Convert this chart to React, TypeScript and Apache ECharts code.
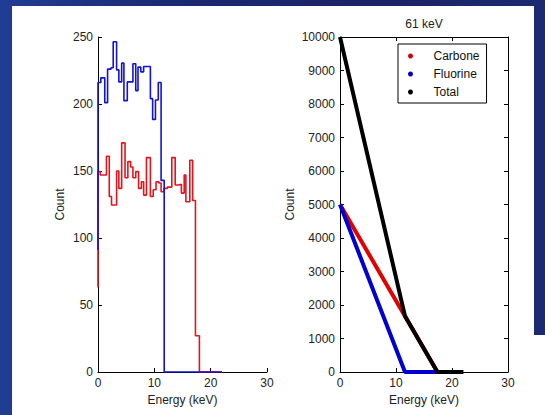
import React, { useEffect, useRef } from "react";
import * as echarts from "echarts";

// Left panel: histogram (stairs) — bin start edges (keV) and counts
const redEdges = [0, 0, 0.4, 1.5, 2.0, 2.4, 3.3, 3.7, 4.2, 4.8, 5.3, 5.8, 6.2, 6.7, 7.2, 7.7, 8.1, 8.6, 9.3, 9.8, 10.3, 10.8, 11.2, 11.7, 12.3, 13.1, 13.7, 14.3, 14.8, 15.3, 15.6, 16.3, 16.8, 17.3, 18.0, 22];
const redCounts = [63, 149.5, 147, 161, 131, 124.6, 150, 137, 171, 145, 157, 153, 145, 149.5, 137, 142, 132, 160, 131, 136, 142, 141, 134.5, 137, 138, 160, 139.5, 140, 133.5, 147, 127, 158, 128, 27, 0, 0];
const blueEdges = [0, 0, 0.5, 1.2, 1.7, 2.3, 2.7, 3.3, 3.7, 4.2, 4.6, 5.2, 6.2, 6.7, 7.1, 7.6, 8.1, 9.3, 9.7, 10.2, 10.7, 11.2, 11.75, 22];
const blueCounts = [91, 216, 219.5, 201, 226, 227, 246.5, 225.5, 216.5, 230.5, 202.5, 216.5, 230, 210, 227.5, 224, 228, 204, 188.5, 203, 216, 143, 0, 0];

// Right panel: 61 keV
const carboneEnergy = [0, 17.4, 22];
const carboneCount = [5000, 0, 0];
const fluorineEnergy = [0, 11.6, 22];
const fluorineCount = [5000, 0, 0];
const totalEnergy = [0, 11.6, 17.4, 22];
const totalCount = [10000, 1670, 0, 0];

const seriesNames = ["Carbone", "Fluorine", "Total"];
const panelTitle = "61 keV";
const xName = "Energy (keV)";
const yName = "Count";

const FONT = "'Liberation Sans', Arial, Helvetica, sans-serif";

const zip = (xs: number[], ys: number[]) => xs.map((x, i) => [x, ys[i]]);

export default function App() {
  const ref = useRef<HTMLDivElement>(null);
  useEffect(() => {
    if (!ref.current) return;
    const chart = echarts.init(ref.current, null, { renderer: "svg" });
    const axisBase = (extra: any) => ({
      type: "value",
      axisLine: { show: true, onZero: false, lineStyle: { color: "#000", width: 1 } },
      axisTick: { show: true, inside: true, length: 4, lineStyle: { color: "#000", width: 1 } },
      axisLabel: { color: "#222", fontSize: 12, fontFamily: FONT, margin: 5, formatter: (v: number) => String(v) },
      splitLine: { show: false },
      nameTextStyle: { color: "#222", fontSize: 12, fontFamily: FONT },
      ...extra,
    });
    const option: any = {
      animation: false,
      backgroundColor: "transparent",
      grid: [
        { left: 98, top: 37, width: 169, height: 335 },
        { left: 340, top: 37, width: 168, height: 335 },
      ],
      xAxis: [
        axisBase({ gridIndex: 0, min: 0, max: 30, interval: 10, name: xName, nameLocation: "middle", nameGap: 21 }),
        axisBase({ gridIndex: 1, min: 0, max: 30, interval: 10, name: xName, nameLocation: "middle", nameGap: 21 }),
        axisBase({ gridIndex: 1, min: 0, max: 30, interval: 10, position: "top", name: panelTitle, nameLocation: "middle", nameGap: 7, axisLabel: { show: false } }),
      ],
      yAxis: [
        axisBase({ gridIndex: 0, min: 0, max: 250, interval: 50, name: yName, nameLocation: "middle", nameGap: 32 }),
        axisBase({ gridIndex: 1, min: 0, max: 10000, interval: 1000, name: yName, nameLocation: "middle", nameGap: 44 }),
        axisBase({ gridIndex: 1, min: 0, max: 10000, interval: 1000, position: "right", axisLabel: { show: false } }),
      ],
      legend: {
        data: seriesNames,
        orient: "vertical",
        left: 398,
        top: 44,
        padding: [5, 7, 4, 10],
        itemWidth: 36,
        itemHeight: 5,
        itemGap: 4,
        icon: "circle",
        borderColor: "#000",
        borderWidth: 1,
        borderRadius: 0,
        backgroundColor: "#fff",
        selectedMode: false,
        textStyle: { fontSize: 12, color: "#111", fontFamily: FONT, lineHeight: 14 },
      },
      series: [
        {
          name: "red-hist",
          type: "line",
          xAxisIndex: 0,
          yAxisIndex: 0,
          step: "end",
          symbol: "none",
          data: zip(redEdges, redCounts),
          lineStyle: { color: "#e3141c", width: 1.6 },
          silent: true,
        },
        {
          name: "blue-hist",
          type: "line",
          xAxisIndex: 0,
          yAxisIndex: 0,
          step: "end",
          symbol: "none",
          data: zip(blueEdges, blueCounts),
          lineStyle: { color: "#1212d6", width: 1.6 },
          silent: true,
        },
        {
          name: "Carbone",
          type: "line",
          xAxisIndex: 1,
          yAxisIndex: 1,
          symbol: "none",
          data: zip(carboneEnergy, carboneCount),
          color: "#d80000",
          itemStyle: { color: "#d80000" },
          lineStyle: { color: "#e00000", width: 4 },
        },
        {
          name: "Fluorine",
          type: "line",
          xAxisIndex: 1,
          yAxisIndex: 1,
          symbol: "none",
          data: zip(fluorineEnergy, fluorineCount),
          color: "#0000c8",
          itemStyle: { color: "#0000c8" },
          lineStyle: { color: "#0000d0", width: 4 },
        },
        {
          name: "Total",
          type: "line",
          xAxisIndex: 1,
          yAxisIndex: 1,
          symbol: "none",
          data: zip(totalEnergy, totalCount),
          color: "#000",
          itemStyle: { color: "#000" },
          lineStyle: { color: "#000", width: 4 },
        },
      ],
    };
    chart.setOption(option);
    return () => chart.dispose();
  }, []);

  return (
    <div
      style={{
        position: "fixed",
        left: 0,
        top: 0,
        width: 545,
        height: 415,
        overflow: "hidden",
        background: "linear-gradient(to right, #1f3d94 0%, #1b2a72 30%, #1b2266 70%, #1c2a70 100%)",
      }}
    >
      <div style={{ position: "absolute", left: 12, top: 6, width: 522, height: 409, background: "#fff" }} />
      <div style={{ position: "absolute", left: 534, top: 335, width: 11, height: 80, background: "#fff" }} />
      <div ref={ref} style={{ position: "absolute", left: 0, top: 0, width: 545, height: 415 }} />
    </div>
  );
}
